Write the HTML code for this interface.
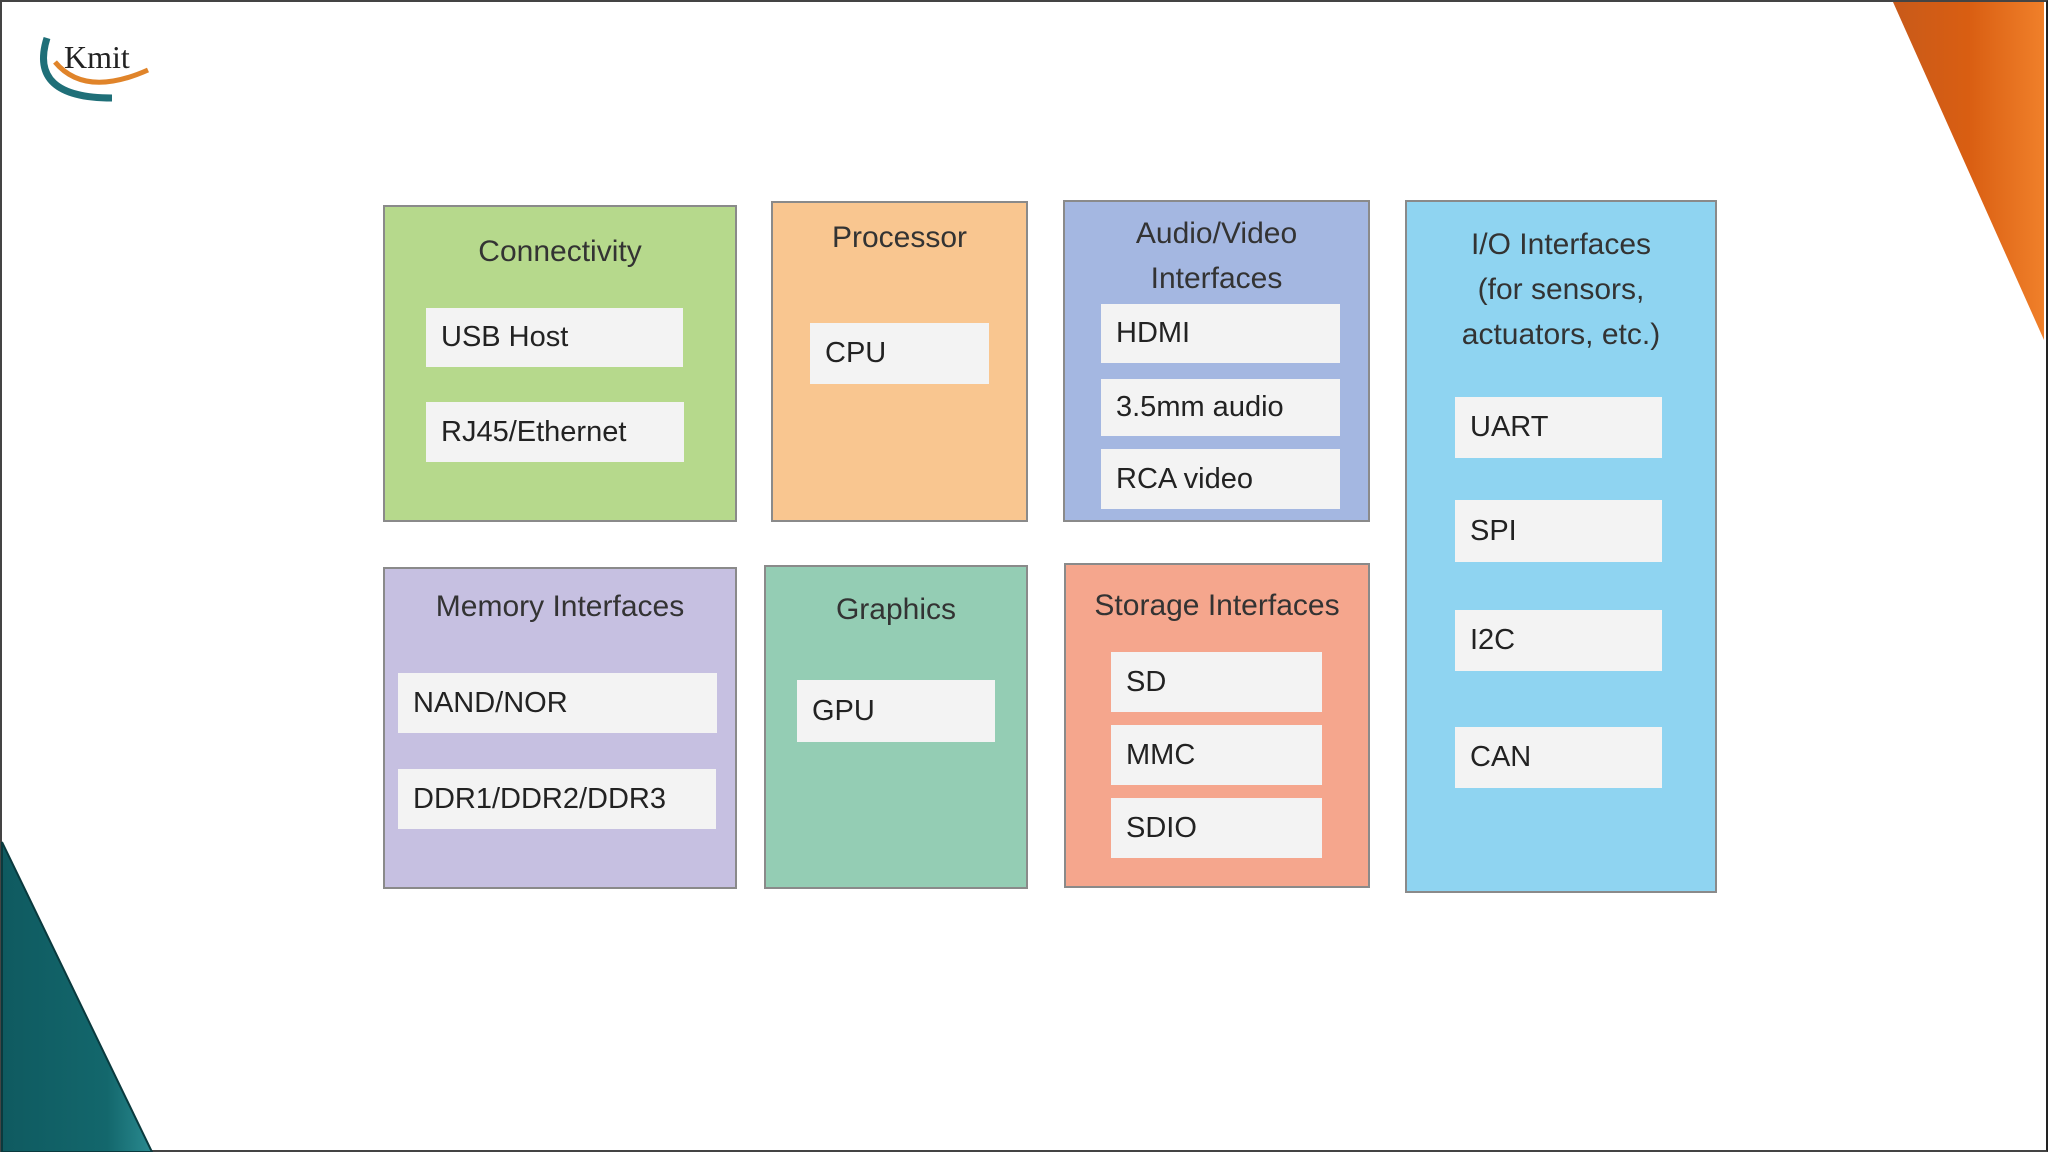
<!DOCTYPE html>
<html><head><meta charset="utf-8"><style>
body{margin:0;width:2048px;height:1152px;overflow:hidden;background:#fff;font-family:"Liberation Sans",sans-serif;position:relative}
.b{position:absolute;border:2px solid #8a8a8a;box-sizing:border-box}
.t{position:absolute;left:0;right:0;text-align:center;font-size:30px;color:#333;line-height:45px}
.i{position:absolute;background:#f3f3f3;box-sizing:border-box;padding-left:15px;font-size:29px;color:#222;display:flex;align-items:center}
</style></head><body>
<div style="position:absolute;left:0;top:0;width:2048px;height:1152px;border:2px solid #444;box-sizing:border-box;border-right-color:#222"></div>
<svg style="position:absolute;left:0;top:0" width="2048" height="1152">
<defs><linearGradient id="o" x1="0" x2="1"><stop offset="0" stop-color="#c85a1a"/><stop offset=".5" stop-color="#d95e12"/><stop offset="1" stop-color="#f0802a"/></linearGradient>
<linearGradient id="g" x1="0" x2="1"><stop offset="0" stop-color="#0f5a60"/><stop offset=".7" stop-color="#13676c"/><stop offset="1" stop-color="#2a8a90"/></linearGradient></defs>
<polygon points="1893,2 2044,2 2044,340" fill="url(#o)"/>
<polygon points="2,842 2,1152 152,1152" fill="url(#g)" stroke="#0a3a3e" stroke-width="2"/>
<path d="M47,38 Q28,98 112,98" stroke="#1f6f78" stroke-width="7" fill="none"/>
<path d="M55,62 Q85,98 148,70" stroke="#e0842a" stroke-width="5" fill="none"/>
<text x="64" y="68" font-family="Liberation Serif" font-size="32" fill="#222">Kmit</text>
</svg>

<div class="b" style="left:383px;top:205px;width:354px;height:317px;background:#b6d98c"><div class="t" style="top:22px">Connectivity</div></div>
<div class="b" style="left:771px;top:201px;width:257px;height:321px;background:#f9c690"><div class="t" style="top:12px">Processor</div></div>
<div class="b" style="left:1063px;top:200px;width:307px;height:322px;background:#a4b7e1"><div class="t" style="top:9px">Audio/Video<br>Interfaces</div></div>
<div class="b" style="left:1405px;top:200px;width:312px;height:693px;background:#8fd4f1"><div class="t" style="top:20px">I/O Interfaces<br>(for sensors,<br>actuators, etc.)</div></div>
<div class="b" style="left:383px;top:567px;width:354px;height:322px;background:#c6c0e1"><div class="t" style="top:15px">Memory Interfaces</div></div>
<div class="b" style="left:764px;top:565px;width:264px;height:324px;background:#94cdb4"><div class="t" style="top:20px">Graphics</div></div>
<div class="b" style="left:1064px;top:563px;width:306px;height:325px;background:#f5a68d"><div class="t" style="top:18px">Storage Interfaces</div></div>

<div class="i" style="left:426px;top:308px;width:257px;height:59px">USB Host</div>
<div class="i" style="left:426px;top:402px;width:258px;height:60px">RJ45/Ethernet</div>
<div class="i" style="left:810px;top:323px;width:179px;height:61px">CPU</div>
<div class="i" style="left:1101px;top:304px;width:239px;height:59px">HDMI</div>
<div class="i" style="left:1101px;top:379px;width:239px;height:57px">3.5mm audio</div>
<div class="i" style="left:1101px;top:449px;width:239px;height:60px">RCA video</div>
<div class="i" style="left:1455px;top:397px;width:207px;height:61px">UART</div>
<div class="i" style="left:1455px;top:500px;width:207px;height:62px">SPI</div>
<div class="i" style="left:1455px;top:610px;width:207px;height:61px">I2C</div>
<div class="i" style="left:1455px;top:727px;width:207px;height:61px">CAN</div>
<div class="i" style="left:398px;top:673px;width:319px;height:60px">NAND/NOR</div>
<div class="i" style="left:398px;top:769px;width:318px;height:60px">DDR1/DDR2/DDR3</div>
<div class="i" style="left:797px;top:680px;width:198px;height:62px">GPU</div>
<div class="i" style="left:1111px;top:652px;width:211px;height:60px">SD</div>
<div class="i" style="left:1111px;top:725px;width:211px;height:60px">MMC</div>
<div class="i" style="left:1111px;top:798px;width:211px;height:60px">SDIO</div>
</body></html>
